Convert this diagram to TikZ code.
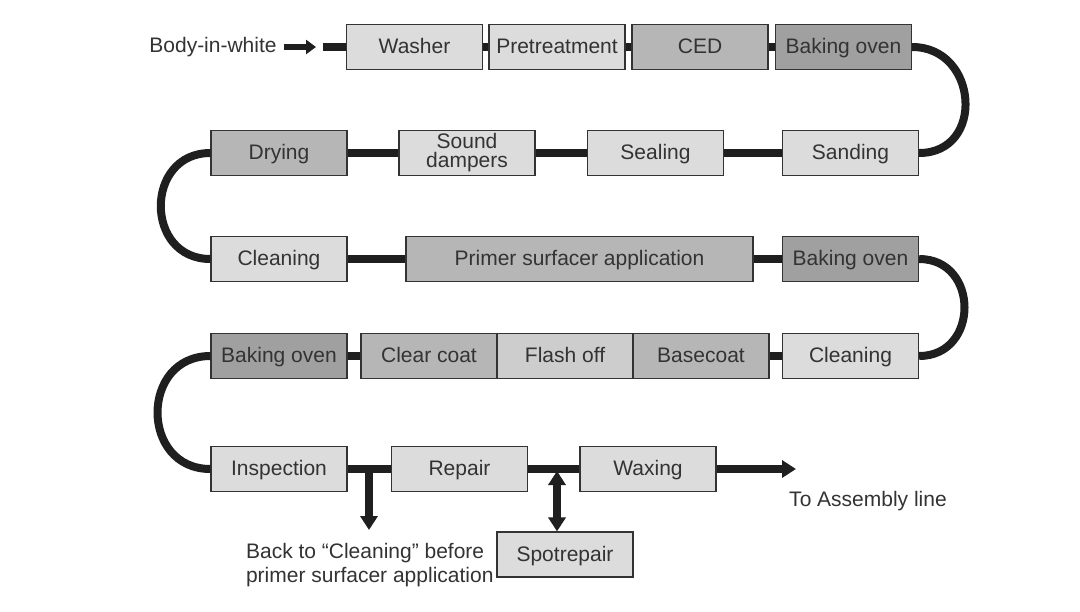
\documentclass[tikz,border=0pt]{standalone}
\usepackage{fontspec}
\setmainfont{Liberation Sans}
\usetikzlibrary{arrows.meta}
\definecolor{lightbox}{HTML}{DCDCDC}
\definecolor{midbox}{HTML}{B6B6B6}
\definecolor{flashbox}{HTML}{CDCDCD}
\definecolor{darkbox}{HTML}{A0A0A0}
\definecolor{ink}{HTML}{333333}
\begin{document}
\begin{tikzpicture}[x=0.5pt,y=-0.5pt,
    stage/.style={draw=ink,line width=0.6pt,minimum width=68pt,minimum height=22.5pt,
        inner sep=1pt,text=ink,align=center,text height=1.55ex,text depth=0.3ex,
        font=\fontsize{10.5}{9.5}\selectfont},
    light/.style={stage,fill=lightbox},
    mid/.style={stage,fill=midbox},
    dark/.style={stage,fill=darkbox},
    label/.style={text=ink,font=\fontsize{10.5}{12}\selectfont},
    link/.style={line width=4pt,draw=black!88},
    flow/.style={link,-{Triangle[width=8.5pt,length=7pt]}}]
    \useasboundingbox (0,0) rectangle (1080,611);

    % row 1
    \node[label] (biw) at (213,47) {Body-in-white};
    \coordinate (biwtip) at (316,47);
    \coordinate (start) at (323,47);
    \node[light] (washer) at (414.5,47) {Washer};
    \node[light] (pretreat) at (557,47) {Pretreatment};
    \node[mid] (ced) at (700,47) {CED};
    \node[dark] (oven1) at (843.5,47) {Baking oven};
    % row 2
    \node[mid] (drying) at (279,153) {Drying};
    \node[light,text height={},text depth={}] (damp) at (467,153) {Sound\\dampers};
    \node[light] (seal) at (655.5,153) {Sealing};
    \node[light] (sand) at (850.5,153) {Sanding};
    % row 3
    \node[light] (clean1) at (279,259) {Cleaning};
    \node[mid,minimum width=173.5pt] (primer) at (579.5,259) {Primer surfacer application};
    \node[dark] (oven2) at (850.5,259) {Baking oven};
    % row 4
    \node[dark] (oven3) at (279,356) {Baking oven};
    \node[mid] (clear) at (429,356) {Clear coat};
    \node[stage,fill=flashbox] (flash) at (565,356) {Flash off};
    \node[mid] (base) at (701,356) {Basecoat};
    \node[light] (clean2) at (850.5,356) {Cleaning};
    % row 5
    \node[light] (insp) at (279,469) {Inspection};
    \node[light] (repair) at (459.5,469) {Repair};
    \node[light] (wax) at (648,469) {Waxing};
    \node[light] (spot) at (565,554.5) {Spotrepair};
    \node[label,anchor=west,align=left] (backtxt) at (239,565)
        {Back to \textquotedblleft Cleaning\textquotedblright\ before\\primer surfacer application};
    \node[label] (toasm) at (868,501) {To Assembly line};

    \draw[line width=2.6pt,draw=black!88,-{Triangle[width=7pt,length=5pt]}] (biw) -- (biwtip);
    \draw[link] (start) -- (washer);
    \draw[link] (washer) -- (pretreat);
    \draw[link] (pretreat) -- (ced);
    \draw[link] (ced) -- (oven1);
    \draw[link] (oven1.east) to[out=0,in=0,looseness=1.6] (sand.east);
    \draw[link] (sand) -- (seal);
    \draw[link] (seal) -- (damp);
    \draw[link] (damp) -- (drying);
    \draw[link] (drying.west) to[out=180,in=180,looseness=1.6] (clean1.west);
    \draw[link] (clean1) -- (primer);
    \draw[link] (primer) -- (oven2);
    \draw[link] (oven2.east) to[out=0,in=0,looseness=1.6] (clean2.east);
    \draw[link] (clean2) -- (base);
    \draw[link] (clear) -- (oven3);
    \draw[link] (oven3.west) to[out=180,in=180,looseness=1.6] (insp.west);
    \draw[link] (insp) -- (repair);
    \draw[link] (repair) -- (wax);

    \coordinate (fork) at (369,469);
    \coordinate (back) at (369,530);
    \draw[flow] (fork) -- (back);
    \coordinate (tap) at (557,471);
    \draw[flow,{Triangle[width=8.5pt,length=7pt]}-{Triangle[width=8.5pt,length=7pt]}] (tap) -- (tap |- spot.north);
    \coordinate (exit) at (796,469);
    \draw[flow] (wax) -- (exit);
\end{tikzpicture}
\end{document}
